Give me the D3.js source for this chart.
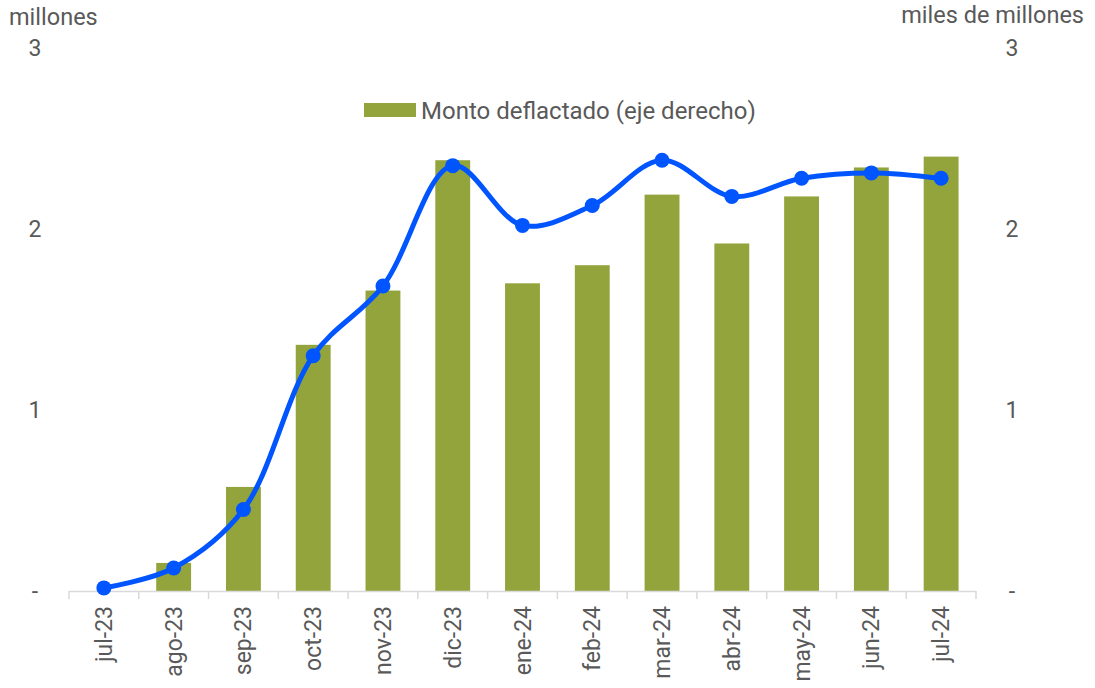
<!DOCTYPE html>
<html>
<head>
<meta charset="utf-8">
<script src="https://cdn.jsdelivr.net/npm/d3@7"></script>
<style>
  body { margin: 0; background: #fff; }
  text { font-family: Roboto, "Noto Sans", sans-serif; fill: #595959; }
</style>
</head>
<body>
<svg id="canvas" width="1095" height="688"></svg>
<script>
'use strict';

var categories = ['jul-23', 'ago-23', 'sep-23', 'oct-23', 'nov-23', 'dic-23', 'ene-24',
  'feb-24', 'mar-24', 'abr-24', 'may-24', 'jun-24', 'jul-24'];
// bars: monto deflactado (eje derecho, miles de millones)
var montoValues = [0, 0.155, 0.575, 1.36, 1.66, 2.38, 1.70, 1.80, 2.19, 1.92, 2.18, 2.34, 2.40];
// line: eje izquierdo (millones)
var lineValues = [0.017, 0.127, 0.45, 1.30, 1.685, 2.35, 2.02, 2.13, 2.38, 2.18, 2.28, 2.31, 2.28];
var tickValues = [0, 1, 2, 3];

var BAR_COLOR = '#94a43c';
var LINE_COLOR = '#0055ff';
var AXIS_COLOR = '#d9d9d9';

function TickLabel(d) {
  return d === 0 ? '-' : d;
}

function RenderChart() {
  var svg = d3.select('#canvas');
  var x = d3.scaleBand().domain(categories).range([69, 976]).paddingInner(0.5).paddingOuter(0.25);
  var yLeft = d3.scaleLinear().domain([0, 3]).range([591, 48]);
  var yRight = d3.scaleLinear().domain([0, 3]).range([591, 48]);

  // bars
  svg.append('g').selectAll('rect')
      .data(montoValues)
    .enter().append('rect')
      .attr('x', function(d, i) { return x(categories[i]); })
      .attr('width', x.bandwidth())
      .attr('y', function(d) { return yRight(d); })
      .attr('height', function(d) { return yRight(0) - yRight(d); })
      .attr('fill', BAR_COLOR);

  // x axis
  var xAxis = svg.append('g');
  xAxis.append('line')
      .attr('x1', 69).attr('x2', 976)
      .attr('y1', 591.5).attr('y2', 591.5)
      .attr('stroke', AXIS_COLOR).attr('stroke-width', 1.5);
  xAxis.selectAll('line.tick')
      .data(d3.range(categories.length + 1))
    .enter().append('line')
      .attr('class', 'tick')
      .attr('x1', function(i) { return 69 + i * x.step(); })
      .attr('x2', function(i) { return 69 + i * x.step(); })
      .attr('y1', 591).attr('y2', 599)
      .attr('stroke', AXIS_COLOR).attr('stroke-width', 1.5);
  xAxis.selectAll('text')
      .data(categories)
    .enter().append('text')
      .text(function(d) { return d; })
      .attr('transform', function(d) {
        return 'translate(' + [x(d) + x.bandwidth() / 2 + 8, 606] + ') rotate(-90)';
      })
      .attr('text-anchor', 'end')
      .attr('font-size', 23);

  // left & right tick labels
  svg.append('g').selectAll('text')
      .data(tickValues)
    .enter().append('text')
      .text(TickLabel)
      .attr('x', 35)
      .attr('y', function(d) { return yLeft(d) + 8; })
      .attr('text-anchor', 'middle')
      .attr('font-size', 23);
  svg.append('g').selectAll('text')
      .data(tickValues)
    .enter().append('text')
      .text(TickLabel)
      .attr('x', 1012)
      .attr('y', function(d) { return yRight(d) + 8; })
      .attr('text-anchor', 'middle')
      .attr('font-size', 23);

  svg.append('text').text('millones')
      .attr('x', 9).attr('y', 25).attr('font-size', 23.5);
  svg.append('text').text('miles de millones')
      .attr('x', 1084).attr('y', 23).attr('text-anchor', 'end').attr('font-size', 23.5);

  // line
  var line = d3.line()
      .x(function(d, i) { return x(categories[i]) + x.bandwidth() / 2; })
      .y(function(d) { return yLeft(d); })
      .curve(d3.curveCatmullRom.alpha(0.5));
  svg.append('path')
      .datum(lineValues)
      .attr('d', line)
      .attr('fill', 'none')
      .attr('stroke', LINE_COLOR)
      .attr('stroke-width', 5);
  svg.append('g').selectAll('circle')
      .data(lineValues)
    .enter().append('circle')
      .attr('cx', function(d, i) { return x(categories[i]) + x.bandwidth() / 2; })
      .attr('cy', function(d) { return yLeft(d); })
      .attr('r', 7.5)
      .attr('fill', LINE_COLOR);

  // legend
  svg.append('rect')
      .attr('x', 364).attr('y', 103).attr('width', 52).attr('height', 14)
      .attr('fill', BAR_COLOR);
  svg.append('text').text('Monto deflactado (eje derecho)')
      .attr('x', 421).attr('y', 119).attr('font-size', 24);
}

RenderChart();
</script>
</body>
</html>
